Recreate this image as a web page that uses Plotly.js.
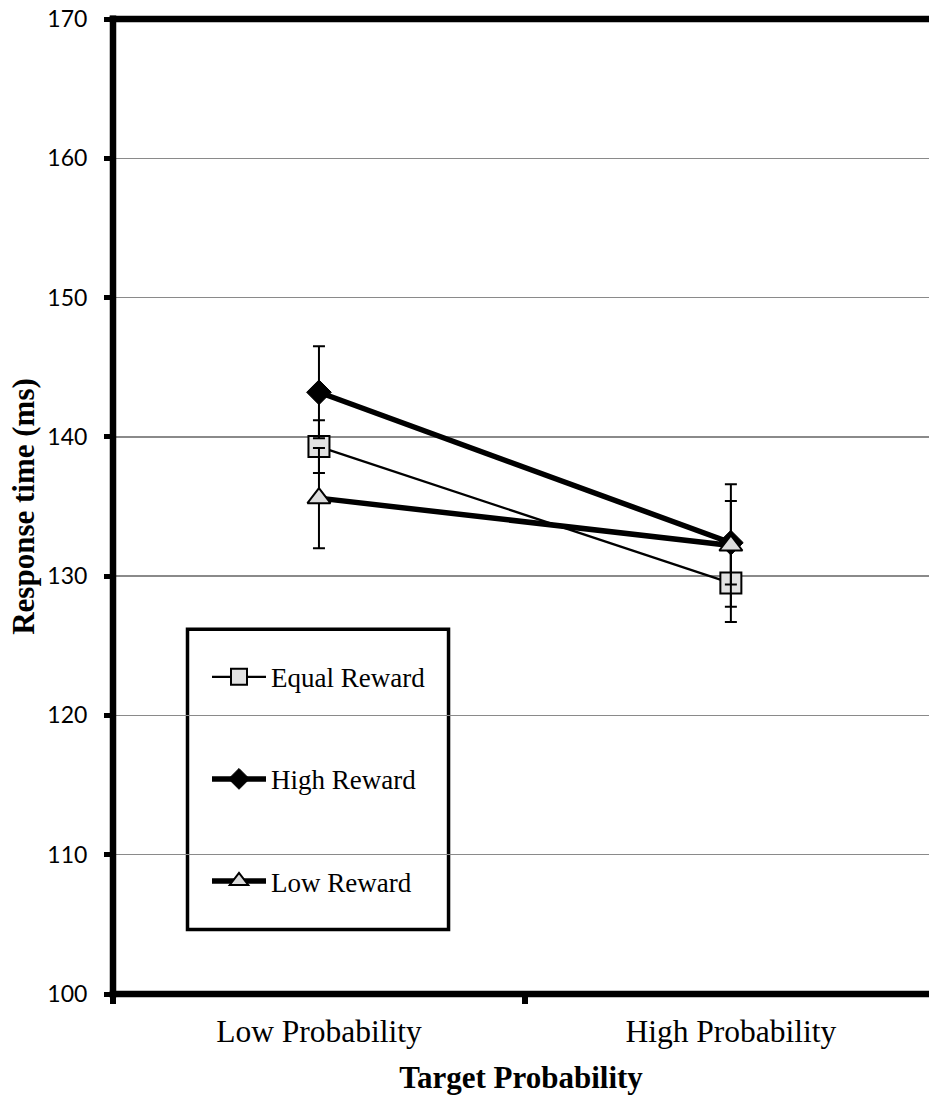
<!DOCTYPE html>
<html>
<head>
<meta charset="utf-8">
<script src="https://cdn.plot.ly/plotly-3.0.1.min.js"></script>
<style>
  html, body { margin: 0; padding: 0; background: #fff; }
  #chart { width: 929px; height: 1095px; }
</style>
</head>
<body>
<div id="chart"></div>
<script>
// Mean response times (ms) by target probability and reward condition
const categories = ['Low Probability', 'High Probability'];

const equalReward = [139.3, 129.5];
const equalErr    = [1.9, 2.8];

const highReward  = [143.2, 132.4];
const highErr     = [3.3, 3.0];

const lowReward   = [135.6, 132.2];
const lowErr      = [3.6, 4.4];

const seriesNames = ['Equal Reward', 'High Reward', 'Low Reward'];
const yTicks = [100, 110, 120, 130, 140, 150, 160, 170];

const serif = 'Liberation Serif, Times New Roman, serif';

function errBars(vals) {
  return { type: 'data', array: vals, visible: true, color: '#000', thickness: 2, width: 6 };
}

const traces = [
  {
    x: categories, y: equalReward, name: seriesNames[0], legendgroup: 'g1',
    type: 'scatter', mode: 'lines+markers',
    line: { color: '#000', width: 2.2 },
    marker: { symbol: 'square', size: 21, color: '#e2e2e2', line: { color: '#000', width: 2 } },
    error_y: errBars(equalErr)
  },
  {
    x: categories, y: highReward, name: seriesNames[1], legendgroup: 'g2',
    type: 'scatter', mode: 'lines+markers',
    line: { color: '#000', width: 5.5 },
    marker: { symbol: 'diamond', size: 19, color: '#000', line: { color: '#000', width: 1 } },
    error_y: errBars(highErr)
  },
  {
    x: categories, y: lowReward, name: seriesNames[2], legendgroup: 'g3',
    type: 'scatter', mode: 'lines+markers',
    line: { color: '#000', width: 5.5 },
    marker: { symbol: 'triangle-up', size: 20, color: '#dcdcdc', line: { color: '#000', width: 2 } },
    error_y: errBars(lowErr)
  }
];

// plot-area frame lines, centred on the plot edges
const frameLine = { color: '#000', width: 6.5 };
const shapes = [
  { type: 'line', xref: 'paper', yref: 'paper', x0: 0, x1: 0, y0: -0.0035, y1: 1.0035, line: frameLine },
  { type: 'line', xref: 'paper', yref: 'paper', x0: -0.004, x1: 1, y0: 0, y1: 0, line: frameLine },
  { type: 'line', xref: 'paper', yref: 'paper', x0: -0.004, x1: 1, y0: 1, y1: 1, line: frameLine },
  // legend frame, white box beneath the legend entries
  { type: 'rect', xref: 'paper', yref: 'paper', x0: 0.0913, x1: 0.4112, y0: 0.0662, y1: 0.374,
    line: { color: '#000', width: 3.5 }, fillcolor: '#fff', layer: 'below' }
];

const layout = {
  width: 929,
  height: 1095,
  margin: { l: 113, r: 0, t: 19, b: 101 },
  paper_bgcolor: '#fff',
  plot_bgcolor: 'rgba(0,0,0,0)',
  showlegend: true,
  xaxis: {
    type: 'category',
    range: [-0.5, 1.481],
    tickson: 'boundaries',
    ticks: 'outside', ticklen: 9, tickwidth: 6, tickcolor: '#000',
    showgrid: false, showline: false, zeroline: false,
    tickfont: { family: serif, size: 31.5, color: '#000' },
    ticklabelstandoff: 15,
    title: { text: '<b>Target Probability</b>', font: { family: serif, size: 31, color: '#000' }, standoff: 19 }
  },
  yaxis: {
    range: [100, 170],
    tickvals: yTicks,
    ticks: 'outside', ticklen: 8, tickwidth: 5, tickcolor: '#000',
    showgrid: true, gridcolor: '#8a8a8a', gridwidth: 1.5,
    showline: false, zeroline: false,
    tickfont: { family: 'Lato, Open Sans, sans-serif', size: 23, color: '#000' },
    ticklabelstandoff: 12,
    title: { text: '<b>Response time (ms)</b>', font: { family: serif, size: 31, color: '#000' }, standoff: 3 }
  },
  legend: {
    x: 0.1152, y: 0.350, xanchor: 'left', yanchor: 'top',
    bgcolor: 'rgba(0,0,0,0)', borderwidth: 0,
    font: { family: serif, size: 27, color: '#000' },
    traceorder: 'grouped', tracegroupgap: 64,
    itemwidth: 54
  },
  shapes: shapes
};

Plotly.newPlot('chart', traces, layout, { displayModeBar: false, staticPlot: true });
</script>
</body>
</html>
